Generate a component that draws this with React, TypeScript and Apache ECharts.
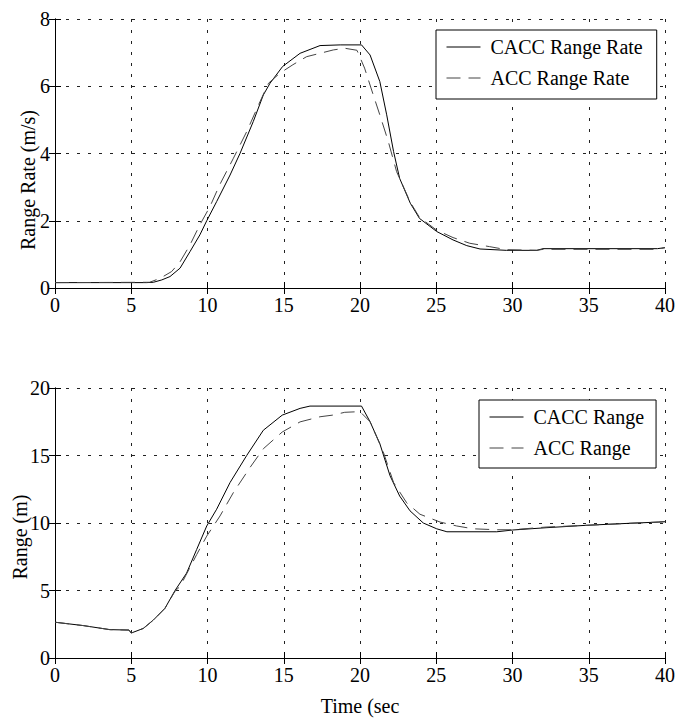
import React, { useEffect, useRef } from "react";
import * as echarts from "echarts";

// Top panel: range rate (m/s) vs time (s)
const rrCaccT = [0, 6, 6.45, 7, 7.54, 8.2, 8.85, 9.5, 9.95, 10.6, 11.48, 12.13, 13.0, 13.66, 14.1, 14.93, 16.07, 17.38, 18.7, 20.1, 20.66, 21.3, 21.75, 22.2, 22.6, 23.3, 23.9, 25.03, 26.1, 27.0, 27.87, 29.6, 31.6, 32.0, 39.5, 40];
const rrCaccV = [0.16, 0.16, 0.17, 0.24, 0.34, 0.59, 1.08, 1.58, 2.0, 2.57, 3.36, 4.0, 4.95, 5.74, 6.09, 6.59, 6.98, 7.21, 7.23, 7.23, 6.93, 6.14, 5.15, 4.06, 3.26, 2.52, 2.07, 1.68, 1.43, 1.26, 1.16, 1.12, 1.12, 1.17, 1.17, 1.2];
const rrAccT = [0, 6.2, 6.9, 7.65, 8.2, 8.85, 9.5, 10.16, 10.8, 11.7, 12.57, 13.44, 14.0, 14.75, 15.6, 16.5, 17.38, 18.25, 19.0, 19.8, 20.3, 20.87, 21.3, 21.86, 22.4, 23.3, 23.9, 25.03, 26.1, 27.2, 28.5, 29.6, 31.6, 32.0, 39.5, 40];
const rrAccV = [0.16, 0.17, 0.29, 0.49, 0.78, 1.28, 1.88, 2.42, 3.07, 3.86, 4.65, 5.54, 6.09, 6.39, 6.64, 6.88, 6.98, 7.08, 7.13, 7.07, 6.54, 5.74, 5.15, 4.35, 3.46, 2.55, 2.1, 1.72, 1.5, 1.33, 1.23, 1.14, 1.12, 1.15, 1.15, 1.2];

// Bottom panel: range (m) vs time (s)
const rCaccT = [0, 1.86, 3.6, 4.85, 5.0, 5.79, 6.45, 7.21, 7.87, 8.63, 9.29, 9.95, 10.6, 11.48, 12.57, 13.66, 14.9, 16.07, 16.72, 20.1, 20.66, 21.3, 21.97, 22.6, 23.28, 24.15, 25.03, 25.7, 28.97, 30.0, 32.2, 34.87, 37.7, 39.6, 40];
const rCaccV = [2.65, 2.4, 2.1, 2.07, 1.85, 2.19, 2.81, 3.68, 5.0, 6.29, 8.04, 9.78, 11.02, 13.0, 15.0, 16.87, 17.99, 18.49, 18.66, 18.66, 17.5, 15.88, 13.5, 12.0, 10.9, 10.0, 9.57, 9.35, 9.35, 9.48, 9.65, 9.83, 9.98, 10.07, 10.1];
const rAccT = [0, 1.86, 3.6, 4.85, 5.0, 5.79, 6.45, 7.21, 7.87, 8.2, 9.29, 9.95, 10.82, 11.7, 12.8, 13.66, 14.9, 16.07, 17.38, 18.2, 19.0, 20.0, 20.66, 21.53, 22.2, 23.06, 23.93, 25.25, 26.34, 27.43, 28.97, 30.0, 32.2, 34.87, 37.7, 39.6, 40];
const rAccV = [2.65, 2.4, 2.1, 2.07, 1.85, 2.19, 2.81, 3.68, 4.95, 5.3, 7.66, 9.03, 10.52, 12.26, 14.13, 15.5, 16.74, 17.49, 17.87, 17.99, 18.2, 18.25, 17.5, 15.25, 13.0, 11.5, 10.65, 10.07, 9.78, 9.57, 9.5, 9.5, 9.7, 9.83, 9.98, 10.07, 10.1];

const topLegend = ["CACC Range Rate", "ACC Range Rate"];
const bottomLegend = ["CACC Range", "ACC Range"];
const xName = "Time (sec";
const topYName = "Range Rate (m/s)";
const bottomYName = "Range (m)";

const FONT = "Liberation Serif";

const pairs = (t: number[], v: number[]) => t.map((x, i) => [x, v[i]]);

function xAxisDef(gridIndex: number, top: boolean, extra: any = {}) {
  return {
    type: "value",
    gridIndex,
    position: top ? "top" : "bottom",
    min: 0,
    max: 40,
    interval: 5,
    axisLine: { show: true, lineStyle: { color: "#000", width: 1 } },
    axisTick: { show: true, inside: true, length: 6, lineStyle: { color: "#000" } },
    axisLabel: top
      ? { show: false }
      : { show: true, margin: 7, color: "#000", fontSize: 20, fontFamily: FONT },
    splitLine: top
      ? { show: false }
      : { show: true, lineStyle: { color: "#222", width: 1, type: [3, 8] } },
    ...extra,
  };
}

function yAxisDef(gridIndex: number, right: boolean, max: number, interval: number) {
  return {
    type: "value",
    gridIndex,
    position: right ? "right" : "left",
    min: 0,
    max,
    interval,
    axisLine: { show: true, lineStyle: { color: "#000", width: 1 } },
    axisTick: { show: true, inside: true, length: 6, lineStyle: { color: "#000" } },
    axisLabel: right
      ? { show: false }
      : { show: true, margin: 5, color: "#000", fontSize: 20, fontFamily: FONT },
    splitLine: right
      ? { show: false }
      : { show: true, lineStyle: { color: "#222", width: 1, type: [3, 8] } },
  };
}

function legendDef(data: string[], left: number, top: number, padding: number[]) {
  return {
    data,
    orient: "vertical",
    left,
    top,
    itemWidth: 34,
    itemHeight: 14,
    itemGap: 11,
    padding,
    borderColor: "#000",
    borderWidth: 1,
    borderRadius: 0,
    backgroundColor: "#fff",
    itemStyle: { opacity: 0 },
    lineStyle: { width: 1 },
    textStyle: { color: "#000", fontSize: 20, fontFamily: FONT, lineHeight: 20, padding: [0, 0, 0, 5] },
  };
}

const solid = { color: "#000", width: 1, type: "solid" };
const dashed = { color: "#444", width: 1, type: [14, 8] };

export default function App() {
  const ref = useRef<HTMLDivElement>(null);
  useEffect(() => {
    const chart = echarts.init(ref.current!, null, { renderer: "svg" });
    const option: any = {
      animation: false,
      backgroundColor: "#fff",
      textStyle: { fontFamily: FONT },
      grid: [
        { left: 55, top: 19, width: 610, height: 269, containLabel: false },
        { left: 55, top: 388, width: 610, height: 270, containLabel: false },
      ],
      xAxis: [
        xAxisDef(0, false),
        xAxisDef(0, true),
        xAxisDef(1, false, {
          name: xName,
          nameLocation: "middle",
          nameGap: 38,
          nameTextStyle: { color: "#000", fontSize: 20, fontFamily: FONT },
        }),
        xAxisDef(1, true),
      ],
      yAxis: [
        yAxisDef(0, false, 8, 2),
        yAxisDef(0, true, 8, 2),
        yAxisDef(1, false, 20, 5),
        yAxisDef(1, true, 20, 5),
      ],
      legend: [
        legendDef(topLegend, 436, 30, [7, 14, 11, 10]),
        legendDef(bottomLegend, 479, 400, [7, 12, 10, 10]),
      ],
      graphic: [
        {
          type: "text",
          x: 28,
          y: 180,
          rotation: Math.PI / 2,
          style: { text: topYName, fill: "#000", fontSize: 20, fontFamily: FONT, align: "center", verticalAlign: "middle" },
        },
        {
          type: "text",
          x: 20,
          y: 537,
          rotation: Math.PI / 2,
          style: { text: bottomYName, fill: "#000", fontSize: 20, fontFamily: FONT, align: "center", verticalAlign: "middle" },
        },
      ],
      series: [
        { name: topLegend[0], type: "line", xAxisIndex: 0, yAxisIndex: 0, data: pairs(rrCaccT, rrCaccV), symbol: "none", lineStyle: solid, itemStyle: { color: "#000" } },
        { name: topLegend[1], type: "line", xAxisIndex: 0, yAxisIndex: 0, data: pairs(rrAccT, rrAccV), symbol: "none", lineStyle: dashed, itemStyle: { color: "#444" } },
        { name: bottomLegend[0], type: "line", xAxisIndex: 2, yAxisIndex: 2, data: pairs(rCaccT, rCaccV), symbol: "none", lineStyle: solid, itemStyle: { color: "#000" } },
        { name: bottomLegend[1], type: "line", xAxisIndex: 2, yAxisIndex: 2, data: pairs(rAccT, rAccV), symbol: "none", lineStyle: dashed, itemStyle: { color: "#444" } },
      ],
    };
    chart.setOption(option);
    return () => chart.dispose();
  }, []);
  return (
    <div
      ref={ref}
      style={{ position: "fixed", left: 0, top: 0, width: 681, height: 719, background: "#fff" }}
    />
  );
}
